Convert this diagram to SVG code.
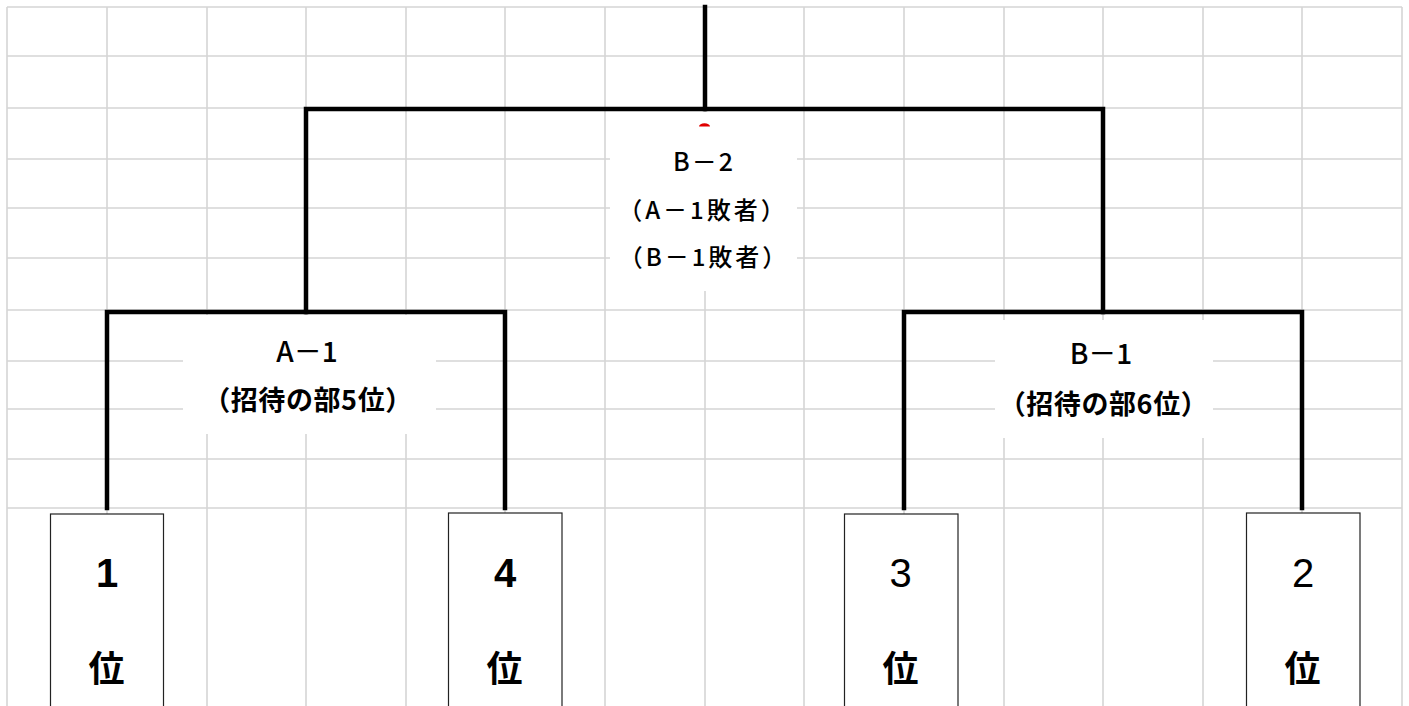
<svg xmlns="http://www.w3.org/2000/svg" width="1409" height="706" viewBox="0 0 1409 706">
<style>
.grid line{stroke:#d5d5d5;stroke-width:1.6}
.mask{fill:#fff}
.conn{fill:none;stroke:#000;stroke-width:4.5;stroke-linejoin:miter;stroke-linecap:square}
.box{fill:#fff;stroke:#222;stroke-width:1.2}
.lbl{font-family:"Noto Sans CJK JP","Noto Sans CJK SC",sans-serif;fill:#000;text-anchor:middle;font-weight:500}
.sub{font-family:"Noto Sans CJK JP","Noto Sans CJK SC",sans-serif;fill:#000;text-anchor:middle;font-weight:bold;font-size:27px;letter-spacing:0.6px}
.big{font-family:"Liberation Sans",Arial,sans-serif;font-size:40px;fill:#000;text-anchor:middle}
.bold{font-weight:bold}
.kanji{font-family:"Noto Sans CJK JP","Noto Sans CJK SC",sans-serif;font-size:36px;font-weight:bold;fill:#000;text-anchor:middle}
</style>
<rect x="0" y="0" width="1409" height="706" fill="#fff"/>
<g class="grid" id="grid">
<line x1="7" y1="7" x2="1402" y2="7"/>
<line x1="7" y1="56" x2="1402" y2="56"/>
<line x1="7" y1="108" x2="1402" y2="108"/>
<line x1="7" y1="159" x2="1402" y2="159"/>
<line x1="7" y1="208" x2="1402" y2="208"/>
<line x1="7" y1="258" x2="1402" y2="258"/>
<line x1="7" y1="310" x2="1402" y2="310"/>
<line x1="7" y1="361" x2="1402" y2="361"/>
<line x1="7" y1="409" x2="1402" y2="409"/>
<line x1="7" y1="459" x2="1402" y2="459"/>
<line x1="7" y1="508" x2="1402" y2="508"/>
<line x1="7" y1="7" x2="7" y2="706"/>
<line x1="107" y1="7" x2="107" y2="706"/>
<line x1="207" y1="7" x2="207" y2="706"/>
<line x1="306" y1="7" x2="306" y2="706"/>
<line x1="406" y1="7" x2="406" y2="706"/>
<line x1="505" y1="7" x2="505" y2="706"/>
<line x1="605" y1="7" x2="605" y2="706"/>
<line x1="705" y1="7" x2="705" y2="706"/>
<line x1="804" y1="7" x2="804" y2="706"/>
<line x1="904" y1="7" x2="904" y2="706"/>
<line x1="1004" y1="7" x2="1004" y2="706"/>
<line x1="1103" y1="7" x2="1103" y2="706"/>
<line x1="1203" y1="7" x2="1203" y2="706"/>
<line x1="1302" y1="7" x2="1302" y2="706"/>
<line x1="1402" y1="7" x2="1402" y2="706"/>
</g>
<g id="label-backgrounds">
<rect class="mask" x="610" y="112" width="187" height="179"/>
<rect class="mask" x="183" y="315" width="253" height="119"/>
<rect class="mask" x="995" y="320" width="218" height="118"/>
</g>
<g id="connectors">
<path class="conn" d="M705,7 V109"/>
<path class="conn" d="M306,312 V109 H1103 V312"/>
<path class="conn" d="M107,508 V312 H505 V508"/>
<path class="conn" d="M904,508 V312 H1302 V508"/>
<path d="M699,126.5 A5.5,3.2 0 0 1 710,126.5 Z" fill="#e00000"/>
</g>
<g id="node-b2">
<text class="lbl" x="704" y="171" font-size="25" letter-spacing="2">B－2</text>
<text class="lbl" x="703" y="219" font-size="24" letter-spacing="3">（A－1敗者）</text>
<text class="lbl" x="704" y="266" font-size="24" letter-spacing="3">（B－1敗者）</text>
</g>
<g id="node-a1">
<text class="lbl" x="307" y="362" font-size="28">A－1</text>
<text class="sub" x="308" y="410">（招待の部5位）</text>
</g>
<g id="node-b1">
<text class="lbl" x="1101" y="364" font-size="28">B－1</text>
<text class="sub" x="1103.5" y="414">（招待の部6位）</text>
</g>
<g id="node-rank1">
<rect class="box" x="50.5" y="514" width="113" height="210"/>
<text class="big bold" x="107" y="587">1</text>
<text class="kanji" x="106.5" y="682">位</text>
</g>
<g id="node-rank4">
<rect class="box" x="448.5" y="513" width="113.5" height="210"/>
<text class="big bold" x="505" y="587">4</text>
<text class="kanji" x="504.5" y="682">位</text>
</g>
<g id="node-rank3">
<rect class="box" x="844.5" y="514" width="113.5" height="210"/>
<text class="big" x="900.5" y="587">3</text>
<text class="kanji" x="900.5" y="682">位</text>
</g>
<g id="node-rank2">
<rect class="box" x="1246.5" y="513" width="113.5" height="210"/>
<text class="big" x="1303" y="587">2</text>
<text class="kanji" x="1302.5" y="682">位</text>
</g>
</svg>
